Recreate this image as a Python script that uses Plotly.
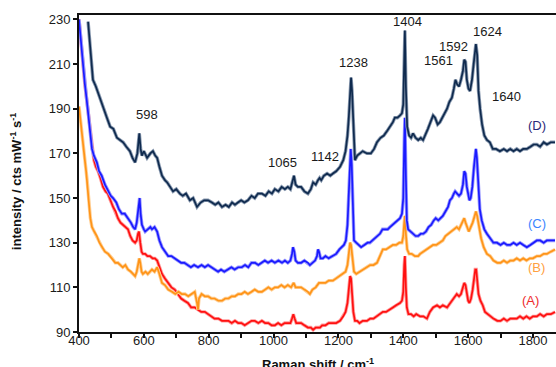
import plotly.graph_objects as go

# ---- data (Raman shift in cm-1, intensity in cts mW-1 s-1) ----
shift_a = [400,404,409,413,418,423,428,434,440,446,
           452,459,466,474,482,489,497,505,513,520,
           528,536,544,551,558,565,573,578,582,585,
           589,593,597,604,611,619,627,634,641,648,
           656,665,675,685,695,705,715,725,736,746,
           757,767,777,788,798,808,818,830,841,851,
           861,871,881,891,901,911,921,932,942,953,
           964,974,984,994,1004,1014,1024,1034,1044,1052,
           1057,1061,1065,1070,1077,1085,1095,1106,1115,1122,
           1130,1137,1143,1150,1160,1170,1183,1193,1205,1215,
           1222,1228,1232,1236,1239,1242,1246,1251,1258,1265,
           1275,1288,1298,1308,1319,1328,1337,1347,1359,1368,
           1378,1390,1396,1400,1403,1405,1408,1411,1416,1424,
           1432,1440,1452,1462,1473,1482,1492,1504,1513,1522,
           1535,1545,1556,1565,1572,1578,1584,1588,1592,1596,
           1600,1604,1609,1614,1619,1622,1625,1628,1632,1638,
           1645,1652,1660,1668,1678,1690,1700,1710,1720,1730,
           1740,1750,1760,1770,1780,1790,1800,1812,1822,1833,
           1843,1855,1868]
intensity_a = [230,223,216,208,201,195,189,180,172,167,
               164,162,159,155,153,152,149,146,144,141,
               139,138,137,136,133,131,130,131,134,135,
               130,126,125,125,124,124,123,123,122,119,
               116,114,112,110,109,107,105,104,103,101,
               101,100,99,99,98,97,96,96,95,95,
               95,94,95,94,94,93,94,95,95,94,
               95,94,94,93,93,94,93,94,94,94,
               96,98,96,94,94,94,93,92,92,91,
               92,92,92,93,93,94,94,94,95,97,
               99,103,109,115,114,107,99,95,95,94,
               95,95,96,96,97,98,99,99,100,101,
               102,103,104,108,120,124,110,101,98,98,
               97,98,97,97,96,99,101,102,101,102,
               101,103,105,107,106,107,110,112,111,107,
               104,103,105,109,115,118,118,113,107,104,
               102,99,98,97,96,95,95,96,95,96,
               96,96,97,96,97,96,97,97,98,97,
               98,98,99]

shift_b = [400,404,409,414,418,422,425,428,431,435,
           440,447,455,463,471,480,490,502,512,520,
           527,535,543,551,560,567,573,578,582,586,
           589,593,597,605,612,620,625,633,641,648,
           656,665,675,687,697,707,717,727,737,747,
           757,764,767,770,778,788,798,808,818,830,
           841,851,861,871,881,891,901,911,921,932,
           942,953,964,974,984,994,1004,1014,1024,1034,
           1044,1054,1062,1068,1075,1085,1095,1106,1112,1120,
           1130,1140,1150,1160,1170,1183,1193,1203,1214,1222,
           1228,1232,1236,1239,1243,1248,1255,1265,1275,1288,
           1298,1308,1319,1328,1337,1347,1357,1368,1378,1388,
           1396,1400,1403,1405,1408,1412,1418,1426,1436,1446,
           1452,1462,1472,1482,1492,1502,1513,1522,1530,1538,
           1546,1556,1565,1572,1578,1584,1588,1592,1597,1602,
           1608,1614,1620,1624,1628,1633,1640,1648,1658,1668,
           1678,1690,1700,1710,1720,1730,1740,1750,1760,1770,
           1780,1790,1800,1812,1822,1833,1843,1855,1868]
intensity_b = [191,185,179,172,167,162,158,152,147,141,
               137,135,133,130,128,126,125,123,121,121,
               120,119,120,118,117,116,115,117,120,123,
               121,117,116,117,116,117,118,117,119,116,
               112,111,109,108,107,108,107,107,106,107,
               108,103,100,105,107,106,106,105,105,104,
               104,105,105,106,106,107,107,108,107,108,
               109,108,108,109,110,109,110,110,111,110,
               111,110,112,110,110,110,109,108,107,109,
               110,112,112,112,113,113,114,115,116,117,
               120,125,130,129,122,117,116,117,118,119,
               120,120,121,124,127,127,128,129,129,130,
               130,133,139,142,134,127,125,125,124,124,
               125,126,127,128,129,129,130,131,133,134,
               135,136,137,136,138,140,141,139,137,135,
               137,139,142,144,142,137,132,128,125,124,
               122,121,121,122,121,122,122,123,122,123,
               122,123,123,124,124,125,125,126,127]

shift_c = [400,405,410,418,423,428,434,440,446,455,
           462,470,480,490,498,505,515,523,532,541,
           551,560,567,573,578,583,587,590,594,600,
           604,612,620,625,633,641,648,656,665,675,
           685,695,705,715,725,736,745,755,767,778,
           788,798,808,818,829,838,848,859,870,880,
           891,902,912,922,932,943,953,963,973,983,
           994,1004,1015,1026,1035,1044,1052,1057,1060,1064,
           1068,1075,1085,1095,1106,1112,1120,1128,1134,1137,
           1140,1145,1152,1160,1170,1183,1193,1203,1210,1217,
           1223,1228,1232,1235,1238,1241,1244,1248,1255,1262,
           1270,1280,1290,1297,1305,1312,1320,1328,1336,1344,
           1352,1359,1366,1374,1382,1390,1396,1400,1403,1405,
           1408,1411,1415,1422,1430,1438,1446,1454,1462,1470,
           1478,1486,1494,1500,1508,1515,1522,1530,1538,1544,
           1550,1556,1560,1566,1572,1578,1584,1588,1592,1596,
           1600,1604,1608,1613,1618,1621,1624,1627,1631,1636,
           1642,1650,1658,1667,1678,1689,1700,1710,1720,1730,
           1740,1750,1760,1770,1781,1792,1802,1812,1822,1833,
           1843,1855,1868]
intensity_c = [230,222,212,201,195,189,180,172,169,166,
               162,160,156,153,151,150,148,145,143,143,
               141,139,137,136,139,146,150,143,138,136,
               135,136,137,136,137,135,131,128,126,124,
               124,123,122,121,121,120,119,120,119,120,
               119,120,119,118,117,118,117,118,119,118,
               119,119,120,119,121,121,120,121,122,121,
               122,121,122,121,122,121,122,125,128,126,
               122,121,121,122,121,120,121,122,124,127,
               126,123,123,124,123,124,125,127,128,129,
               131,138,152,168,172,165,145,131,130,129,
               128,129,130,130,131,132,133,134,136,136,
               136,137,138,139,140,141,143,150,175,186,
               160,140,136,135,134,133,133,134,134,135,
               137,138,140,141,140,141,142,144,146,149,
               150,152,153,152,151,152,156,162,161,155,
               151,149,150,155,164,170,172,168,158,145,
               140,136,134,132,130,130,129,130,129,129,
               130,129,130,129,128,129,130,131,131,130,
               131,131,131]

shift_d = [428,432,438,443,452,465,475,486,496,506,
           517,527,536,546,557,565,573,580,586,590,
           594,600,610,620,628,635,641,648,656,665,
           672,681,690,700,711,720,730,742,752,764,
           775,786,798,810,820,830,841,852,862,872,
           881,890,900,910,921,932,942,952,964,975,
           985,995,1004,1015,1025,1035,1044,1052,1058,1063,
           1068,1075,1085,1095,1106,1115,1122,1130,1137,1142,
           1147,1155,1165,1175,1183,1193,1205,1215,1222,1228,
           1232,1236,1239,1242,1246,1251,1258,1265,1275,1288,
           1300,1310,1319,1330,1340,1350,1360,1368,1374,1382,
           1390,1396,1400,1403,1405,1408,1412,1418,1424,1430,
           1438,1446,1454,1461,1468,1476,1484,1492,1498,1506,
           1513,1520,1527,1535,1542,1550,1556,1561,1566,1572,
           1578,1584,1588,1592,1596,1601,1606,1612,1617,1621,
           1624,1628,1632,1637,1643,1650,1658,1667,1676,1686,
           1698,1710,1720,1730,1740,1750,1760,1770,1781,1792,
           1802,1812,1822,1833,1843,1855,1868]
intensity_d = [229,222,212,203,200,195,191,186,182,181,
               177,176,175,173,171,168,166,170,179,172,
               169,171,168,170,171,169,168,164,160,158,
               157,155,153,154,152,151,152,149,150,146,
               148,149,149,148,147,148,146,147,146,148,
               147,148,149,148,149,151,150,152,152,151,
               153,152,154,153,155,154,155,154,157,160,
               156,155,155,153,152,154,157,156,158,159,
               158,160,161,160,161,162,164,167,171,178,
               186,200,204,198,180,167,169,170,171,170,
               170,172,175,177,178,180,182,184,186,186,
               187,188,192,210,225,200,182,178,177,179,
               177,176,177,176,178,181,184,187,186,183,
               184,186,188,190,193,195,199,203,201,200,
               203,207,212,211,203,199,198,203,210,216,
               219,214,198,190,183,178,176,175,172,172,
               171,172,171,172,171,172,171,172,172,173,
               174,174,173,175,174,175,175]

peak_labels = ["598", "1065", "1142", "1238", "1404", "1561", "1592", "1624", "1640"]
peak_label_x = [610, 1029, 1159, 1245, 1414, 1510, 1556, 1661, 1717]
peak_label_y = [187.6, 166.1, 168.4, 210.9, 229.3, 211.8, 218.1, 224.8, 195.3]

series_labels = ["(A)", "(B)", "(C)", "(D)"]
series_label_x = [1791, 1812, 1812, 1812]
series_label_y = [103.9, 118.7, 138.4, 182.3]

x_ticks = [400, 600, 800, 1000, 1200, 1400, 1600, 1800]
y_ticks = [90, 110, 130, 150, 170, 190, 210, 230]

# ---- styles ----
line_colors = ["#ff1010", "#ff9418", "#1a1aff", "#0f2a4e"]
halo_colors = ["#ff9a9a", "#ffcf95", "#9a9aff", "#8a9ab0"]
label_colors = ["#ee2b2b", "#ffa040", "#3a86ff", "#2b2a7a"]
FONT = "Arial, 'Liberation Sans', Helvetica, sans-serif"

series = [(shift_a, intensity_a), (shift_b, intensity_b),
          (shift_c, intensity_c), (shift_d, intensity_d)]

fig = go.Figure()
for (xs, ys), col, halo in zip(series, line_colors, halo_colors):
    fig.add_trace(go.Scatter(x=xs, y=ys, mode="lines",
                             line=dict(color=halo, width=3.4),
                             hoverinfo="skip", showlegend=False))
    fig.add_trace(go.Scatter(x=xs, y=ys, mode="lines",
                             line=dict(color=col, width=1.7),
                             showlegend=False))

for txt, x, y in zip(peak_labels, peak_label_x, peak_label_y):
    fig.add_annotation(x=x, y=y, text=txt, showarrow=False,
                       font=dict(family=FONT, size=13, color="#1a1a1a"))

for txt, x, y, col in zip(series_labels, series_label_x, series_label_y, label_colors):
    fig.add_annotation(x=x, y=y, text=txt, showarrow=False,
                       font=dict(family=FONT, size=13, color=col))

# axis titles
fig.add_annotation(xref="paper", yref="paper", x=0.5, y=-0.1,
                   text="<b>Raman shift / cm<sup>-1</sup></b>", showarrow=False,
                   xanchor="center", yanchor="middle",
                   font=dict(family=FONT, size=13, color="#111"))
fig.add_annotation(xref="paper", yref="paper", x=-0.132, y=0.476,
                   text="<b>intensity / cts mW<sup>-1</sup> s<sup>-1</sup></b>", showarrow=False,
                   textangle=-90, xanchor="center", yanchor="middle",
                   font=dict(family=FONT, size=13, color="#111"))

fig.update_layout(
    width=556, height=367,
    margin=dict(l=79, r=0, t=15, b=35),
    paper_bgcolor="white", plot_bgcolor="white",
    showlegend=False,
    font=dict(family=FONT, size=13, color="#1a1a1a"),
)
fig.update_xaxes(range=[400, 1871], tickvals=x_ticks, ticks="outside", ticklen=4,
                 tickwidth=2, tickcolor="#111", showgrid=False, zeroline=False,
                 showline=True, linecolor="#111", linewidth=2, mirror=True,
                 tickfont=dict(family=FONT, size=13, color="#1a1a1a"),
                 ticklabelstandoff=-9,
                 minor=dict(dtick=100, tick0=400, ticks="outside", ticklen=4,
                            tickwidth=2, tickcolor="#111"),
                 automargin=False)
fig.update_yaxes(range=[90, 232], tickvals=y_ticks, ticks="outside", ticklen=4,
                 tickwidth=2, tickcolor="#111", showgrid=False, zeroline=False,
                 showline=True, linecolor="#111", linewidth=2,
                 tickfont=dict(family=FONT, size=13, color="#1a1a1a"),
                 automargin=False)

# remove the default page margin so the 556x367 figure fills the window exactly
fig.write_html("out.html",
               config={"displayModeBar": False},
               post_script="document.body.style.margin='0';"
                           "document.body.style.overflow='hidden';")
